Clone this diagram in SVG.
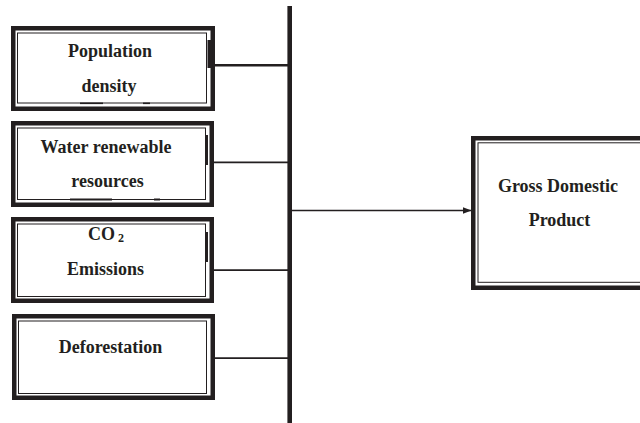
<svg xmlns="http://www.w3.org/2000/svg" width="640" height="423" viewBox="0 0 640 423">
<style>
.outer{fill:#fff;stroke:#231f20;stroke-width:4.5}
.inner{fill:none;stroke:#231f20;stroke-width:1}
.t{font-family:"Liberation Serif","Times New Roman",serif;font-weight:bold;font-size:18px;fill:#231f20;text-anchor:middle}
.c{stroke:#231f20;fill:none}
.mark{fill:#231f20}
</style>
<defs>
<marker id="ah" markerWidth="9" markerHeight="7" refX="9" refY="3.5" orient="auto" markerUnits="userSpaceOnUse">
<path d="M0,0 L9,3.5 L0,7 Z" fill="#231f20"/>
</marker>
</defs>
<g id="connectors">
<line class="c" x1="289.7" y1="6" x2="289.7" y2="423" stroke-width="4.6"/>
<line class="c" x1="214" y1="65.3" x2="288" y2="65.3" stroke-width="2.5"/>
<line class="c" x1="213" y1="162.4" x2="288" y2="162.4" stroke-width="1.8"/>
<line class="c" x1="213" y1="270.2" x2="288" y2="270.2" stroke-width="1.8"/>
<line class="c" x1="214" y1="358.2" x2="288" y2="358.2" stroke-width="1.8"/>
<line class="c" x1="292" y1="210.5" x2="471.5" y2="210.5" stroke-width="1.5" marker-end="url(#ah)"/>
</g>
<g id="population-density">
<rect class="outer" x="13.25" y="28.25" width="199.5" height="80.5"/>
<rect class="inner" x="17.5" y="33" width="189" height="70"/>
<rect class="mark" x="207.5" y="40" width="5" height="28"/>
<rect class="mark" x="80" y="102.5" width="23" height="1.6"/>
<rect class="mark" x="143" y="102.5" width="7" height="1.6"/>
<text class="t" x="110" y="57">Population</text>
<text class="t" x="109" y="92">density</text>
</g>
<g id="water-renewable-resources">
<rect class="outer" x="13.25" y="123.25" width="198.5" height="81.5"/>
<rect class="inner" x="17.5" y="128" width="188" height="71.5"/>
<rect class="mark" x="205" y="135" width="3" height="30"/>
<rect class="mark" x="70" y="198.5" width="42" height="2"/>
<rect class="mark" x="154" y="198.5" width="6" height="2"/>
<text class="t" x="106" y="153.3">Water renewable</text>
<text class="t" x="107.5" y="186.7">resources</text>
</g>
<g id="co2-emissions">
<rect class="outer" x="13.25" y="219.25" width="198.5" height="81.5"/>
<rect class="inner" x="17.5" y="224" width="188" height="72.5"/>
<rect class="mark" x="205" y="232" width="3" height="30"/>
<text class="t" x="106" y="240">CO<tspan font-size="12" dy="1.5"> 2</tspan></text>
<text class="t" x="105.5" y="275">Emissions</text>
</g>
<g id="deforestation">
<rect class="outer" x="14.25" y="316.25" width="198.5" height="81.5"/>
<rect class="inner" x="18.5" y="321" width="188" height="72.5"/>
<text class="t" x="110.5" y="353.3">Deforestation</text>
</g>
<g id="gross-domestic-product">
<rect class="outer" x="473.25" y="138.25" width="200" height="149.5"/>
<rect class="inner" x="478" y="142.8" width="200" height="139.5"/>
<text class="t" x="558" y="191.7">Gross Domestic</text>
<text class="t" x="559.5" y="226">Product</text>
</g>
</svg>
